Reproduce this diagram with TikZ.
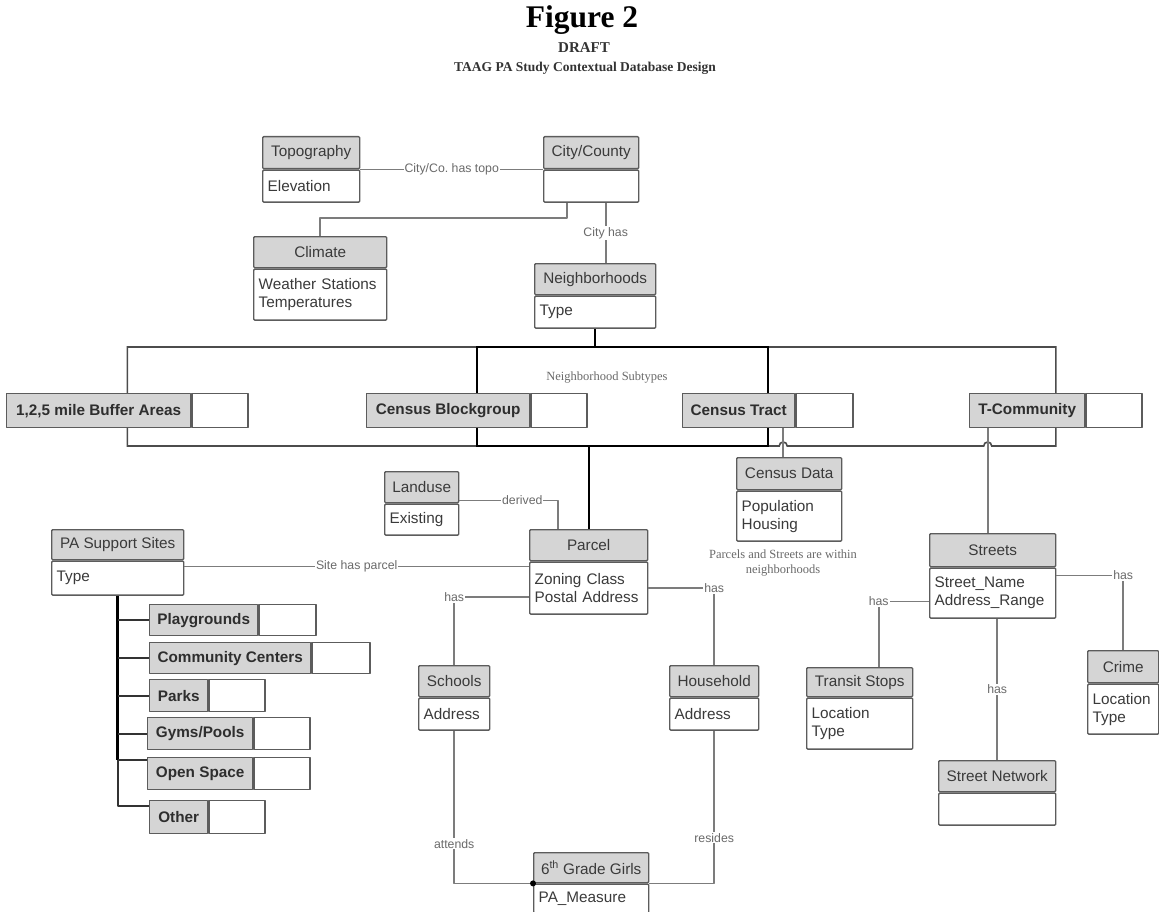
\documentclass[tikz,border=0pt]{standalone}
\usepackage{fontspec}
\setmainfont{Liberation Serif}
\setsansfont{Liberation Sans}
\usetikzlibrary{backgrounds,calc}
\definecolor{hdrgray}{HTML}{D5D5D5}
\definecolor{boxline}{HTML}{5C5C5C}
\definecolor{linkgray}{HTML}{7C7C7C}
\definecolor{txtgray}{HTML}{3A3A3A}
\definecolor{lblgray}{HTML}{6A6A6A}

% entity box: name, left, top, width, header height, body height, title, body
\newcommand{\entity}[8]{%
  \node[hdr, minimum width=#4, minimum height=#5, anchor=north west] (#1) at (#2,#3) {#7};
  \pgfmathsetlengthmacro{\bodytw}{#4-10}%
  \node[bodybox, text width=\bodytw, minimum height=#6, anchor=north west] (#1-b) at (#1.south west) {#8};}
% subtype box: name, left, top, header width, cell width, height, title
\newcommand{\subtype}[7]{%
  \node[subhdr, minimum width=#4, minimum height=#6, anchor=north west] (#1) at (#2,#3) {#7};
  \node[subcell, minimum width=#5, minimum height=#6, anchor=north west] (#1-r) at (#1.north east) {};}

\begin{document}
\begin{tikzpicture}[x=1pt, y=-1pt, line join=round,
    hdr/.style={draw=boxline, fill=hdrgray, line width=1.4pt, rounded corners=1pt, inner sep=0pt,
      text=txtgray, font=\sffamily\fontsize{15.3}{18}\selectfont},
    bodybox/.style={draw=boxline, fill=white, line width=1.4pt, rounded corners=1pt, inner xsep=5pt,
      inner ysep=0pt, align=left, text=txtgray, font=\sffamily\fontsize{15.3}{18}\selectfont},
    subhdr/.style={draw=boxline, fill=hdrgray, line width=1.4pt, inner sep=0pt,
      text=txtgray!80!black, font=\sffamily\bfseries\fontsize{15.3}{18}\selectfont},
    subcell/.style={draw=boxline, fill=white, line width=1.4pt, inner sep=0pt},
    link/.style={draw=linkgray, line width=1.6pt},
    lbl/.style={fill=white, inner sep=1pt, text=lblgray, font=\sffamily\fontsize{12.3}{14}\selectfont},
    note/.style={align=center, text=lblgray, font=\rmfamily\fontsize{12.5}{14.5}\selectfont},
    busline/.style={draw=black!70, line width=1.6pt},
    innerbus/.style={draw=black, line width=2pt},
    trunkline/.style={draw=black, line width=3pt},
    branchline/.style={draw=black!80, line width=1.6pt}]
\useasboundingbox (0,0) rectangle (1159,912);

% title
\node[anchor=base, font=\rmfamily\bfseries\fontsize{31.5}{34}\selectfont] (fig) at (582,28) {Figure 2};
\node[anchor=base, text=black!80, font=\rmfamily\bfseries\fontsize{15}{17}\selectfont] (draft) at (584,53) {DRAFT};
\node[anchor=base, text=black!80, font=\rmfamily\bfseries\fontsize{13.5}{16}\selectfont] (ttl) at (585,72) {TAAG PA Study Contextual Database Design};

% entities
\entity{topo}{262}{136}{97}{32}{32}{Topography}{Elevation}
\entity{city}{543}{136}{95}{32}{32}{City/County}{}
\entity{climate}{253}{236}{133}{31}{51}{Climate}{Weather Stations\\Temperatures}
\entity{nbhd}{534}{263}{121}{31}{32}{Neighborhoods}{Type}
\entity{landuse}{384}{471}{74}{31}{31}{Landuse}{Existing}
\entity{parcel}{529}{529}{118}{31}{52}{Parcel}{Zoning Class\\Postal Address}
\entity{cdata}{736}{457}{105}{32}{50}{Census Data}{Population\\Housing}
\entity{streets}{929}{533}{126}{33}{50}{Streets}{Street\_Name\\Address\_Range}
\entity{pasites}{51}{529}{132}{30}{34}{PA Support Sites}{Type}
\entity{schools}{418}{665}{71}{31}{32}{Schools}{Address}
\entity{household}{669}{665}{89}{31}{32}{Household}{Address}
\entity{transit}{806}{667}{106}{29}{51}{Transit Stops}{Location\\Type}
\entity{crime}{1087}{650}{71}{32}{50}{Crime}{Location\\Type}
\entity{stnet}{938}{760}{117}{31}{32}{Street Network}{}
\entity{girls}{533}{852}{115}{30}{29}{6\textsuperscript{th} Grade Girls}{PA\_Measure}

% subtypes
\subtype{buffer}{6}{393}{184}{56}{34}{1,2,5 mile Buffer Areas}
\subtype{blockgrp}{366}{393}{163}{56}{34}{Census Blockgroup}
\subtype{tract}{682}{393}{112}{57}{34}{Census Tract}
\subtype{tcomm}{969}{393}{115}{56}{34}{T-Community}
\subtype{play}{149}{604}{108}{57}{31}{Playgrounds}
\subtype{commc}{149}{642}{161}{58}{31}{Community Centers}
\subtype{parks}{149}{679}{58}{56}{32}{Parks}
\subtype{gyms}{147}{717}{105}{56}{32}{Gyms/Pools}
\subtype{opens}{147}{757}{105}{56}{32}{Open Space}
\subtype{other}{149}{800}{58}{56}{33}{Other}

\coordinate (bustop) at (0,347);
\coordinate (busbot) at (0,446);
\foreach \s in {buffer,blockgrp,tract,tcomm}
  \coordinate (\s-c) at ($(\s.west)!.5!(\s-r.east)$);
\coordinate (c-up) at ([xshift=-6]cdata.north);
\coordinate (s-up) at ([xshift=-5]streets.north);
\coordinate (cityleg) at ([xshift=14.5]city-b.south);

\begin{scope}[on background layer]
  \draw[busline] (buffer-c |- busbot) -- (buffer-c |- bustop) -- (tcomm-c |- bustop) -- (tcomm-c |- busbot)
    -- ([xshift=4]s-up |- busbot) arc[start angle=0, end angle=-180, radius=4]
    -- ([xshift=4]c-up |- busbot) arc[start angle=0, end angle=-180, radius=4] -- cycle;
  \draw[innerbus] (blockgrp-c |- bustop) rectangle (tract-c |- busbot);
  \draw[link] (c-up |- tract.south) -- (c-up);
  \draw[link] (s-up |- tcomm.south) -- (s-up);
\end{scope}
\node[note] (subtypes) at (607,378) {Neighborhood Subtypes};
\node[note] (within) at (783,563) {Parcels and Streets are within\\neighborhoods};

\draw[innerbus] (nbhd-b.south) -- (nbhd-b.south |- bustop);
\draw[innerbus] (parcel.north |- busbot) -- (parcel.north);

% relations
\draw[link] (topo.south east) -- (city.south west) node[lbl, midway] {City/Co.\ has topo};
\draw[link] ([xshift=-24.5]city-b.south) -- ++(0,15) -| (climate.north);
\draw[link] (cityleg) -- (cityleg |- nbhd.north) node[lbl, midway] {City has};
\draw[link] ([yshift=3]landuse.south east) -| ([xshift=-31]parcel.north) node[lbl, pos=.32] {derived};
\draw[link] ([yshift=-6]pasites.south east) -- ([yshift=-6]pasites.south east -| parcel.west)
  node[lbl, midway] {Site has parcel};
\draw[link] ([yshift=-9]parcel-b.west) -| (schools.north) node[lbl, pos=.5] {has};
\draw[link] (parcel-b.east) -| (household.north) node[lbl, pos=.5] {has};
\draw[link] (schools-b.south) |- (girls.south west) node[lbl, pos=.37] {attends};
\draw[link] (household-b.south) |- (girls.south east) node[lbl, pos=.35] {resides};
\fill (girls.south west) circle (3);
\draw[link] ([yshift=-8]streets.south east) -| (crime.north) node[lbl, pos=.5] {has};
\draw[link] ([yshift=-34]streets.south west) -| ([xshift=19]transit.north) node[lbl, pos=.5] {has};
\draw[link] (stnet.north |- streets-b.south) -- (stnet.north) node[lbl, midway] {has};

% support site types
\draw[trunkline] (pasites-b.south) -- ([yshift=-3]pasites-b.south |- opens.north west);
\foreach \s in {play,commc,parks,gyms}
  \draw[branchline] (pasites-b.south |- \s.west) -- (\s.west);
\draw[branchline] ([yshift=-3]pasites-b.south |- opens.north west) -- ([yshift=-3]opens.north west);
\draw[branchline] ([yshift=-3]pasites-b.south |- opens.north west) |- ([yshift=-6]other.north west);
\end{tikzpicture}
\end{document}
